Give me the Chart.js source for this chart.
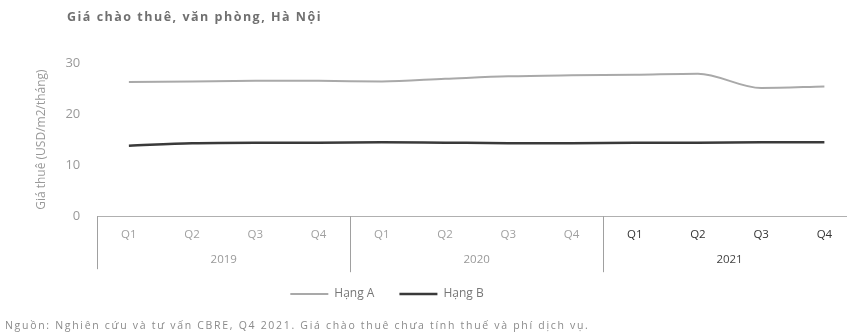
<!DOCTYPE html>
<html lang="vi">
<head>
<meta charset="utf-8">
<script src="https://cdn.jsdelivr.net/npm/chart.js@4/dist/chart.umd.min.js"></script>
<style>
  html, body { margin: 0; padding: 0; background: #fff; overflow: hidden; }
  #wrap { position: relative; width: 847px; height: 332px; overflow: hidden; }
  #title { position: absolute; left: 67px; top: 8px; font: bold 12.5px "Open Sans", sans-serif; color: #707070; letter-spacing: 1.5px; }
  #note { position: absolute; left: 5px; top: 318px; font: 10.5px "Open Sans", sans-serif; color: #8a8a8a; white-space: nowrap; letter-spacing: 1.7px; }
  canvas { position: absolute; left: 0; top: 0; }
</style>
</head>
<body>
<div id="wrap">
  <canvas id="c" width="860" height="332"></canvas>
  <div id="title">Giá chào thuê, văn phòng, Hà Nội</div>
  <div id="note">Nguồn: Nghiên cứu và tư vấn CBRE, Q4 2021. Giá chào thuê chưa tính thuế và phí dịch vụ.</div>
</div>
<script>
// Quarters along the axis, grouped by year
const quarters = ['Q1', 'Q2', 'Q3', 'Q4', 'Q1', 'Q2', 'Q3', 'Q4', 'Q1', 'Q2', 'Q3', 'Q4'];
const years = ['2019', '2020', '2021'];
const quartersPerYear = 4;

// Asking rent, USD/m2/month
const hangA = [26.3, 26.4, 26.5, 26.5, 26.4, 26.9, 27.4, 27.6, 27.7, 27.9, 25.1, 25.4];
const hangB = [13.8, 14.3, 14.4, 14.4, 14.5, 14.4, 14.3, 14.3, 14.4, 14.4, 14.5, 14.5];

const seriesNames = ['Hạng A', 'Hạng B'];
const yTicks = [0, 10, 20, 30];

const FONT = '"Open Sans", sans-serif';

// Year row and group separators under the quarter labels
const yearGroups = {
  id: 'yearGroups',
  afterLayout(chart) {
    // keep the legend a little left of the canvas centre
    const lg = chart.legend;
    if (lg) { lg.left -= 58; lg.right -= 58; lg.top -= 8; lg.bottom -= 8; }
  },
  afterDraw(chart) {
    const x = chart.scales.x;
    const ctx = chart.ctx;
    const top = x.top;
    const half = (x.getPixelForValue(1) - x.getPixelForValue(0)) / 2;
    ctx.save();
    ctx.strokeStyle = '#a0a0a0';
    ctx.lineWidth = 1;
    ctx.beginPath();
    ctx.moveTo(Math.round(x.left) + 0.5, top);
    ctx.lineTo(Math.round(x.left) + 0.5, top + 53);
    ctx.stroke();
    for (let g = 1; g < years.length; g++) {
      const px = Math.round(x.getPixelForValue(g * quartersPerYear) - half) + 0.5;
      ctx.beginPath();
      ctx.moveTo(px, top);
      ctx.lineTo(px, top + 56);
      ctx.stroke();
    }
    ctx.font = '11.5px ' + FONT;
    ctx.textAlign = 'center';
    ctx.textBaseline = 'middle';
    years.forEach((yr, g) => {
      const a = x.getPixelForValue(g * quartersPerYear);
      const b = x.getPixelForValue(g * quartersPerYear + quartersPerYear - 1);
      ctx.fillStyle = g === years.length - 1 ? '#444' : '#999';
      ctx.fillText(yr, (a + b) / 2, top + 44);
    });
    ctx.restore();
  }
};

new Chart(document.getElementById('c'), {
  type: 'line',
  data: {
    labels: quarters,
    datasets: [
      { label: seriesNames[0], data: hangA, borderColor: '#a9a9a9', backgroundColor: '#a9a9a9',
        borderWidth: 2, pointRadius: 0, tension: 0.4, cubicInterpolationMode: 'monotone' },
      { label: seriesNames[1], data: hangB, borderColor: '#3a3a3a', backgroundColor: '#3a3a3a',
        borderWidth: 2.5, pointRadius: 0, tension: 0.4, cubicInterpolationMode: 'monotone' }
    ]
  },
  options: {
    responsive: false,
    animation: false,
    layout: { padding: { top: 63, left: 34, right: 4, bottom: 14 } },
    scales: {
      x: {
        offset: true,
        grid: { display: false, drawTicks: false },
        border: { display: true, color: '#b0b0b0', width: 1 },
        ticks: {
          padding: 12,
          font: { family: FONT, size: 11.5 },
          color: (c) => (c.index >= 8 ? '#333' : '#a0a0a0'),
          maxRotation: 0, autoSkip: false
        },
        afterFit(scale) { scale.height += 17; }
      },
      y: {
        min: 0, max: 30,
        afterBuildTicks(scale) { scale.ticks = yTicks.map(v => ({ value: v })); },
        grid: { display: false, drawTicks: false },
        border: { display: false },
        ticks: { padding: 17, font: { family: FONT, size: 13 }, color: '#999' },
        title: { display: true, text: 'Giá thuê (USD/m2/tháng)', font: { family: FONT, size: 12 }, color: '#999', padding: 0 }
      }
    },
    plugins: {
      legend: {
        position: 'bottom',
        labels: {
          usePointStyle: true, pointStyle: 'line', pointStyleWidth: 38, boxHeight: 10,
          font: { family: FONT, size: 12 }, color: '#777', padding: 25
        }
      },
      tooltip: { enabled: false }
    }
  },
  plugins: [yearGroups]
});
</script>
</body>
</html>
